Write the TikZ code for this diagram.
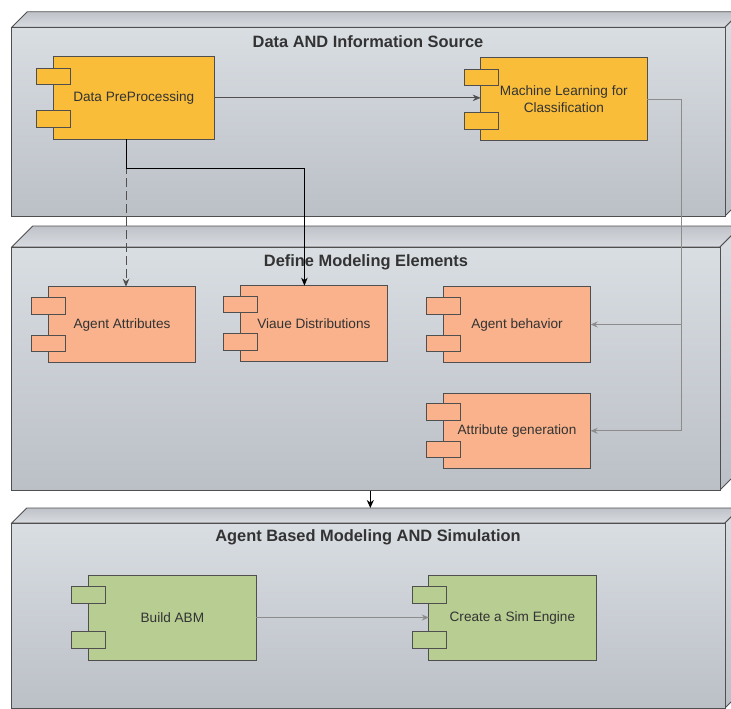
\documentclass[tikz,border=0pt]{standalone}
\usepackage{fontspec}
\setmainfont{Liberation Sans}
\usetikzlibrary{arrows.meta,calc}
\definecolor{pkgA}{HTML}{D9DEE3}
\definecolor{pkgB}{HTML}{BBBFC6}
\definecolor{pkgTA}{HTML}{BFC3C9}
\definecolor{pkgTB}{HTML}{D8DCE1}
\definecolor{edge}{HTML}{4F4F4F}
\definecolor{cOrange}{HTML}{F9BD3A}
\definecolor{cSalmon}{HTML}{F9B28B}
\definecolor{cGreen}{HTML}{B8CD92}
\definecolor{txt}{HTML}{333333}
\definecolor{lnDark}{HTML}{505050}
\definecolor{lnGray}{HTML}{8C8C8C}
\newcommand\cmpnt[7]{%
  \node[compbody,fill=#6,minimum width=#4,minimum height=#5] (#1) at (#2,#3) {#7};
  \path[compport,fill=#6] ($(#1.north west)+(-16.7,0.14*#5)$) rectangle ++(34,16.7);
  \path[compport,fill=#6] ($(#1.south west)+(-16.7,-0.14*#5-16.7)$) rectangle ++(34,16.7);
}
\begin{document}
\begin{tikzpicture}[x=1pt,y=-1pt,
  pkgfront/.style={draw=edge,line width=1pt,top color=pkgA,bottom color=pkgB},
  pkgtop/.style={draw=edge,line width=0.8pt,top color=pkgTA,bottom color=pkgTB},
  pkgside/.style={draw=edge,line width=0.8pt,top color=pkgA,bottom color=pkgB},
  pkgtitle/.style={font=\fontsize{16.4}{19}\selectfont\bfseries,text=txt,inner sep=0pt},
  compbody/.style={draw=edge,line width=0.9pt,inner sep=0pt,outer sep=0pt,align=center,
    text=txt,font=\fontsize{13.6}{16.6}\selectfont},
  compport/.style={draw=edge,line width=0.9pt},
  conn/.style={line width=0.8pt},
]
\useasboundingbox (0,0) rectangle (731,709);
\clip (0,0) rectangle (731,709);
% package 1
\path[pkgtop] (11.7,27.3) -- (27.2,11.8) -- (740.5,11.8) -- (725,27.3) -- cycle;
\path[pkgside] (725,27.3) -- (740.5,11.8) -- (740.5,200.5) -- (725,216) -- cycle;
\path[pkgfront] (11.7,27.3) rectangle (725,216);
\node[pkgtitle] (t1) at (368,42) {Data AND Information Source};
% package 2
\path[pkgtop] (11.7,247) -- (32.7,226) -- (741,226) -- (720,247) -- cycle;
\path[pkgside] (720,247) -- (741,226) -- (741,469) -- (720,490) -- cycle;
\path[pkgfront] (11.7,247) rectangle (720,490);
\node[pkgtitle] (t2) at (366,262) {Define Modeling Elements};
% package 3
\path[pkgtop] (11.7,523) -- (26.7,508) -- (740,508) -- (725,523) -- cycle;
\path[pkgside] (725,523) -- (740,508) -- (740,693) -- (725,708) -- cycle;
\path[pkgfront] (11.7,523) rectangle (725,708);
\node[pkgtitle] (t3) at (368,537) {Agent Based Modeling AND Simulation};
% components
\cmpnt{dp}{133.8}{97.85}{161}{82.3}{cOrange}{Data PreProcessing}
\cmpnt{ml}{563.85}{99}{166.3}{83.4}{cOrange}{Machine Learning for\\Classification}
\cmpnt{aa}{122}{324.5}{147.4}{75.6}{cSalmon}{Agent Attributes}
\cmpnt{vd}{313.85}{323.35}{147.7}{75.3}{cSalmon}{Viaue Distributions}
\cmpnt{ab}{517}{324.5}{147.4}{75.6}{cSalmon}{Agent behavior}
\cmpnt{ag}{517}{430.8}{147.4}{75}{cSalmon}{Attribute generation}
\cmpnt{ba}{172.4}{617.5}{167.6}{85}{cGreen}{Build ABM}
\cmpnt{cs}{512.4}{617.5}{167.2}{85}{cGreen}{Create a Sim Engine}
% helper coordinates
\coordinate (dsx) at (126,0);
\coordinate (jn) at (126,168.3);
\coordinate (vdx) at (304.4,0);
\coordinate (bus) at (681,0);
\coordinate (p2b) at (370.3,490.5);
\coordinate (p3t) at (370.3,508);
% connectors
\draw[conn,draw=lnDark,-{Stealth[length=8pt,width=6.5pt,inset=2.5pt,fill=lnDark]}] (dp.east) -- (dp.east -| ml.west);
\draw[conn,draw=lnGray,-{Stealth[length=7pt,width=6pt,inset=2.5pt,fill=lnGray]}] (ml.east) -| (bus |- ag.east) -- (ag.east);
\draw[conn,draw=lnGray,-{Stealth[length=7pt,width=6pt,inset=2.5pt,fill=lnGray]}] (bus |- ab.east) -- (ab.east);
\draw[conn,draw=lnDark,dash pattern=on 9pt off 4pt,-{Stealth[length=8pt,width=6.5pt,inset=2.5pt,fill=lnDark]}] (dp.south -| dsx) -- (aa.north -| dsx);
\draw[conn,draw=black,-{Stealth[length=8pt,width=6.5pt,inset=2.5pt,fill=black]}] (dp.south -| dsx) -- (jn) -| (vd.north -| vdx);
\draw[conn,draw=lnGray,-{Stealth[length=7pt,width=6pt,inset=2.5pt,fill=lnGray]}] (ba.east) -- (ba.east -| cs.west);
\draw[line width=1pt,draw=black,-{Stealth[length=8pt,width=7pt,inset=2.5pt,fill=black]}] (p2b) -- (p3t);
\end{tikzpicture}
\end{document}
